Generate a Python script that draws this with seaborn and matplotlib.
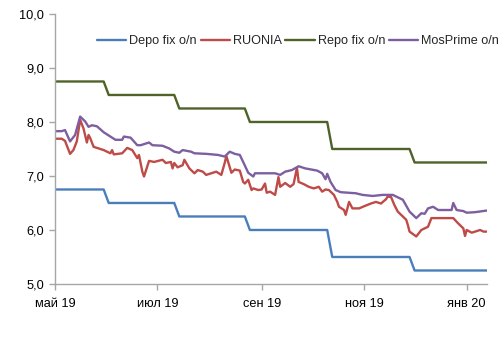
import pandas as pd
import matplotlib
matplotlib.use("Agg")
import matplotlib.pyplot as plt
import seaborn as sns

# key rate decisions -> corridor bounds
rate_dates = ["2019-05-16", "2019-06-17", "2019-07-29", "2019-09-09", "2019-10-28", "2019-12-16"]
depo_levels = [6.75, 6.50, 6.25, 6.00, 5.50, 5.25]
repo_levels = [8.75, 8.50, 8.25, 8.00, 7.50, 7.25]
end_date = "2020-01-28"

ruonia_dates = [
    "2019-05-16", "2019-05-20", "2019-05-22", "2019-05-25", "2019-05-27", "2019-05-29",
    "2019-05-31", "2019-06-02", "2019-06-04", "2019-06-05", "2019-06-06", "2019-06-08",
    "2019-06-14", "2019-06-18", "2019-06-19", "2019-06-20", "2019-06-25", "2019-06-28",
    "2019-07-01", "2019-07-04", "2019-07-05", "2019-07-07", "2019-07-08", "2019-07-11",
    "2019-07-14", "2019-07-19", "2019-07-21", "2019-07-24", "2019-07-25", "2019-07-26",
    "2019-07-28", "2019-07-31", "2019-08-01", "2019-08-04", "2019-08-07", "2019-08-09",
    "2019-08-12", "2019-08-14", "2019-08-17", "2019-08-20", "2019-08-23", "2019-08-25",
    "2019-08-26", "2019-08-29", "2019-08-31", "2019-09-03", "2019-09-05", "2019-09-06",
    "2019-09-08", "2019-09-10", "2019-09-11", "2019-09-14", "2019-09-16", "2019-09-18",
    "2019-09-19", "2019-09-21", "2019-09-24", "2019-09-26", "2019-09-27", "2019-09-30",
    "2019-10-03", "2019-10-05", "2019-10-07", "2019-10-08", "2019-10-11", "2019-10-14",
    "2019-10-17", "2019-10-20", "2019-10-22", "2019-10-24", "2019-10-26", "2019-10-29",
    "2019-10-31", "2019-11-01", "2019-11-04", "2019-11-05", "2019-11-07", "2019-11-09",
    "2019-11-13", "2019-11-16", "2019-11-20", "2019-11-23", "2019-11-26", "2019-11-29",
    "2019-11-30", "2019-12-02", "2019-12-04", "2019-12-06", "2019-12-11", "2019-12-12",
    "2019-12-13", "2019-12-17", "2019-12-20", "2019-12-22", "2019-12-24", "2019-12-26",
    "2020-01-08", "2020-01-11", "2020-01-14", "2020-01-15", "2020-01-16", "2020-01-19",
    "2020-01-24", "2020-01-26", "2020-01-28",
]
ruonia_vals = [
    7.69, 7.69, 7.65, 7.41, 7.48, 7.64,
    8.04, 7.88, 7.62, 7.76, 7.70, 7.54,
    7.48, 7.42, 7.48, 7.40, 7.42, 7.52,
    7.48, 7.33, 7.39, 7.08, 6.99, 7.28,
    7.26, 7.30, 7.24, 7.26, 7.14, 7.24,
    7.16, 7.20, 7.30, 7.14, 7.05, 7.11,
    7.08, 7.02, 7.05, 7.08, 7.02, 7.24,
    7.37, 7.06, 7.12, 7.10, 6.89, 6.86,
    6.93, 6.74, 6.77, 6.74, 6.75, 6.86,
    6.69, 6.71, 6.65, 6.98, 6.80, 6.87,
    6.80, 6.85, 7.15, 6.89, 6.85, 6.80,
    6.77, 6.80, 6.71, 6.75, 6.74, 6.65,
    6.52, 6.43, 6.37, 6.28, 6.52, 6.40,
    6.40, 6.44, 6.49, 6.52, 6.49, 6.57,
    6.62, 6.61, 6.46, 6.34, 6.19, 6.09,
    5.97, 5.88, 6.00, 6.03, 6.06, 6.22,
    6.22, 6.12, 6.03, 5.89, 6.00, 5.95,
    6.00, 5.97, 5.97,
]

mosprime_dates = [
    "2019-05-16", "2019-05-20", "2019-05-22", "2019-05-25", "2019-05-28", "2019-05-31",
    "2019-06-03", "2019-06-05", "2019-06-07", "2019-06-10", "2019-06-14", "2019-06-18",
    "2019-06-21", "2019-06-25", "2019-06-26", "2019-06-30", "2019-07-04", "2019-07-06",
    "2019-07-11", "2019-07-13", "2019-07-19", "2019-07-23", "2019-07-26", "2019-07-29",
    "2019-07-31", "2019-08-05", "2019-08-07", "2019-08-14", "2019-08-21", "2019-08-25",
    "2019-08-28", "2019-08-31", "2019-09-03", "2019-09-05", "2019-09-08", "2019-09-11",
    "2019-09-12", "2019-09-24", "2019-09-27", "2019-09-30", "2019-10-04", "2019-10-08",
    "2019-10-12", "2019-10-19", "2019-10-22", "2019-10-24", "2019-10-25", "2019-10-27",
    "2019-10-30", "2019-11-02", "2019-11-11", "2019-11-15", "2019-11-21", "2019-11-27",
    "2019-12-03", "2019-12-09", "2019-12-13", "2019-12-17", "2019-12-20", "2019-12-22",
    "2019-12-24", "2019-12-27", "2019-12-30", "2020-01-07", "2020-01-08", "2020-01-10",
    "2020-01-14", "2020-01-16", "2020-01-21", "2020-01-28",
]
mosprime_vals = [
    7.83, 7.83, 7.85, 7.64, 7.76, 8.10,
    8.01, 7.91, 7.94, 7.92, 7.81, 7.73,
    7.67, 7.67, 7.73, 7.71, 7.57, 7.57,
    7.62, 7.57, 7.56, 7.51, 7.45, 7.43,
    7.48, 7.45, 7.42, 7.41, 7.39, 7.36,
    7.45, 7.41, 7.39, 7.26, 7.06, 6.99,
    7.05, 7.05, 7.02, 7.08, 7.11, 7.18,
    7.14, 7.10, 7.05, 6.94, 7.04, 6.89,
    6.74, 6.70, 6.68, 6.65, 6.63, 6.65,
    6.65, 6.56, 6.34, 6.22, 6.31, 6.30,
    6.40, 6.43, 6.37, 6.37, 6.50, 6.37,
    6.35, 6.32, 6.33, 6.36,
]

tick_dates = ["2019-05-16", "2019-07-16", "2019-09-16", "2019-11-16", "2020-01-16"]
tick_labels = ["май 19", "июл 19", "сен 19", "ноя 19", "янв 20"]

# business-day corridor series
days = pd.bdate_range(rate_dates[0], end_date)
corridor = pd.DataFrame({"depo": depo_levels, "repo": repo_levels},
                        index=pd.to_datetime(rate_dates)).reindex(days, method="ffill")
corridor.index.name = "date"
corridor = corridor.reset_index()

ruonia = pd.DataFrame({"date": pd.to_datetime(ruonia_dates), "val": ruonia_vals})
mosprime = pd.DataFrame({"date": pd.to_datetime(mosprime_dates), "val": mosprime_vals})

sns.set_style("ticks")
plt.rcParams["font.family"] = ["Liberation Sans", "DejaVu Sans"]
plt.rcParams["font.size"] = 9.3

fig = plt.figure(figsize=(5.04, 3.47), dpi=100)
ax = fig.add_axes([0.109, 0.1816, 0.857, 0.7781])

lw = 1.7
sns.lineplot(data=corridor, x="date", y="depo", color="#4a7ebb", lw=lw, label="Depo fix o/n", ax=ax)
sns.lineplot(data=ruonia, x="date", y="val", color="#be4b48", lw=lw, label="RUONIA", ax=ax)
sns.lineplot(data=corridor, x="date", y="repo", color="#4f6228", lw=lw, label="Repo fix o/n", ax=ax)
sns.lineplot(data=mosprime, x="date", y="val", color="#7d5fa0", lw=lw, label="MosPrime o/n", ax=ax)

ax.set_xlim(pd.Timestamp(rate_dates[0]), pd.Timestamp(end_date))
ax.set_ylim(5, 10)
ax.set_yticks([5, 6, 7, 8, 9, 10])
ax.set_yticklabels([f"{v:.1f}".replace(".", ",") for v in [5, 6, 7, 8, 9, 10]])
ax.set_xticks(pd.to_datetime(tick_dates))
ax.set_xticklabels(tick_labels)
ax.set_xlabel("")
ax.set_ylabel("")

for s in ["top", "right"]:
    ax.spines[s].set_visible(False)
for s in ["left", "bottom"]:
    ax.spines[s].set_color("#a6a6a6")
    ax.spines[s].set_linewidth(1.0)
ax.tick_params(axis="both", colors="#a6a6a6", labelcolor="black", length=4, width=1.0, labelsize=9.2)
ax.tick_params(axis="x", pad=6)
ax.tick_params(axis="y", pad=4)

handles, labels = ax.get_legend_handles_labels()
ax.get_legend().remove()
fig.legend(handles, labels, loc="center", bbox_to_anchor=(298 / 504, 1 - 41 / 347), ncol=4,
           frameon=False, handlelength=2.3, handletextpad=0.25, columnspacing=0.3,
           borderaxespad=0, fontsize=9.1)

fig.savefig("out.png", dpi=100)
